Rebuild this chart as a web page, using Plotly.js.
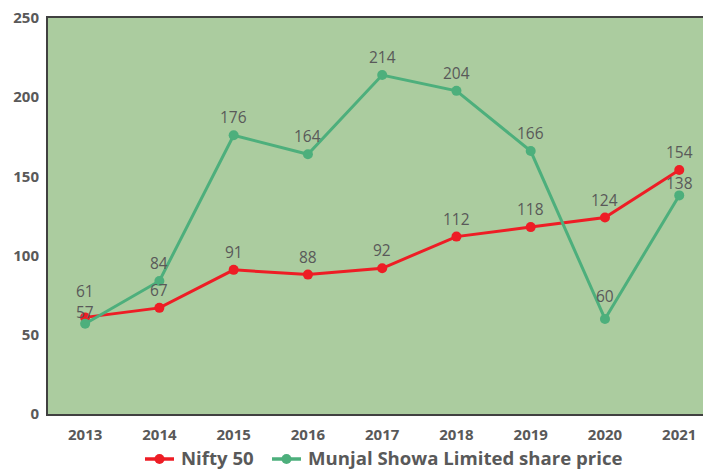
<!DOCTYPE html>
<html>
<head>
<meta charset="utf-8">
<script src="https://cdn.plot.ly/plotly-3.0.1.min.js"></script>
<style>html,body{margin:0;padding:0;background:#fff;}#chart{width:703px;height:470px;}</style>
</head>
<body>
<div id="chart"></div>
<script>
const years = ['2013','2014','2015','2016','2017','2018','2019','2020','2021'];
const nifty = [61, 67, 91, 88, 92, 112, 118, 124, 154];
const munjal = [57, 84, 176, 164, 214, 204, 166, 60, 138];
const seriesNames = ['Nifty 50', 'Munjal Showa Limited share price'];
const yTicks = [0, 50, 100, 150, 200, 250];

const RED = '#ee1d25', GREEN = '#4daf7c';
const colors = [RED, GREEN];
const labelFont = {family: 'Open Sans, sans-serif', size: 15.5, color: '#595959'};
const tickFont = {family: 'Open Sans, sans-serif', size: 15, color: '#595959', weight: 'bold'};

const traces = [nifty, munjal].map((vals, s) => ({
  x: years, y: vals, name: seriesNames[s], type: 'scatter', mode: 'lines+markers',
  line: {color: colors[s], width: 3}, marker: {color: colors[s], size: 10},
  showlegend: false
}));

// data labels placed at the data points via the axes, lifted above each marker
function labelShift(series, i) {
  if (series === 0 && i === 0) return 26;
  if (series === 1 && i === 0) return 12;
  if (series === 1 && i === 7) return 23;
  if (series === 1 && i === 8) return 12;
  return 18;
}
const annotations = [];
[nifty, munjal].forEach((vals, s) => {
  vals.forEach((v, i) => {
    annotations.push({
      x: i, y: v, xref: 'x', yref: 'y', text: String(v), showarrow: false, borderpad: 0,
      yshift: labelShift(s, i), font: Object.assign({}, labelFont), xanchor: 'center', yanchor: 'middle'
    });
  });
});

// legend drawn below the plot (plot area: x 48..703 px, y 18..414 px)
const PL = 48, PW = 655, PT = 18, PH = 396;
const px = v => (v - PL) / PW;
const py = v => (PT + PH - v) / PH;
const legendItems = [
  {lineFrom: 145, lineTo: 174, textAt: 179},
  {lineFrom: 272, lineTo: 301, textAt: 306}
];
const legendY = 459;
const shapes = [];
legendItems.forEach((it, s) => {
  shapes.push({type: 'line', xref: 'paper', yref: 'paper', x0: px(it.lineFrom), x1: px(it.lineTo),
    y0: py(legendY), y1: py(legendY), line: {color: colors[s], width: 3.5}});
  const c = (it.lineFrom + it.lineTo) / 2;
  shapes.push({type: 'circle', xref: 'paper', yref: 'paper', x0: px(c - 5), x1: px(c + 5),
    y0: py(legendY + 5), y1: py(legendY - 5), fillcolor: colors[s], line: {width: 0}});
  annotations.push({xref: 'paper', yref: 'paper', x: px(it.textAt), y: py(legendY - 2), text: seriesNames[s],
    showarrow: false, xanchor: 'left', yanchor: 'middle',
    font: {family: 'Open Sans, sans-serif', size: 18.6, color: '#595959', weight: 'bold'}});
});

const layout = {
  width: 703, height: 470,
  margin: {l: PL, r: 0, t: PT, b: 470 - PT - PH},
  paper_bgcolor: '#ffffff', plot_bgcolor: '#abcc9f',
  showlegend: false,
  annotations: annotations,
  shapes: shapes,
  xaxis: {type: 'category', range: [-0.5, 8.32], showgrid: false, zeroline: false,
    showline: true, mirror: true, linecolor: '#404040', linewidth: 2, ticks: '',
    ticklabelstandoff: 6, tickfont: tickFont},
  yaxis: {range: [0, 250], tickvals: yTicks, ticktext: yTicks.map(String), showgrid: false, zeroline: false,
    showline: true, linecolor: '#404040', linewidth: 2, ticks: '', ticklabelstandoff: 4,
    tickfont: tickFont}
};
Plotly.newPlot('chart', traces, layout, {displayModeBar: false, staticPlot: true});
</script>
</body>
</html>
